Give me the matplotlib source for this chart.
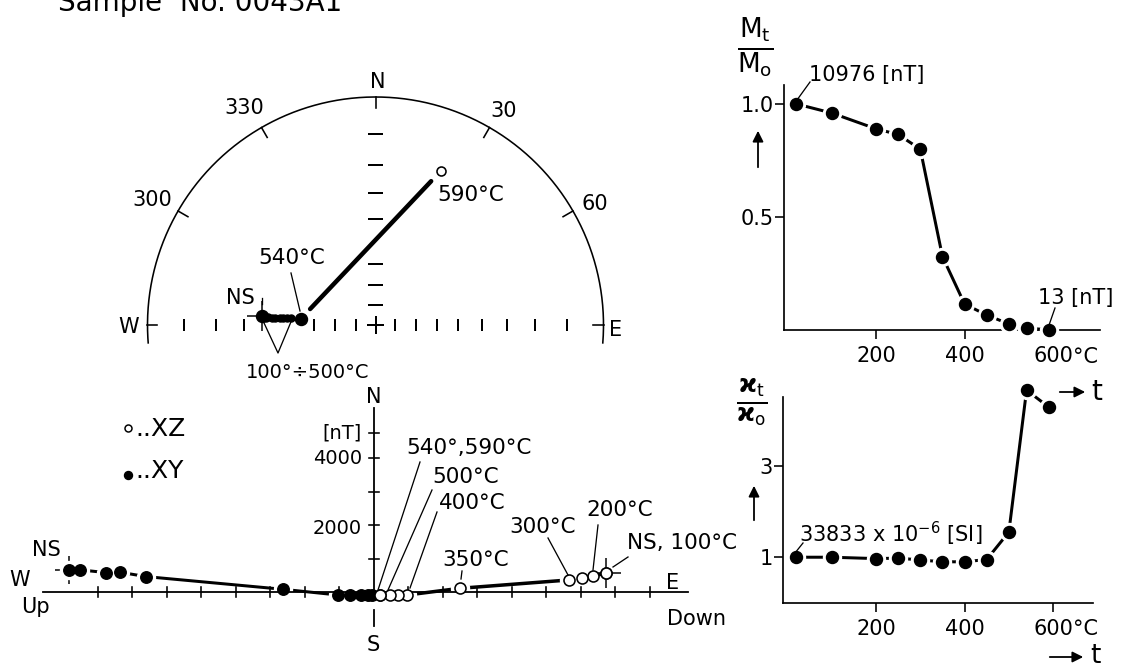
import numpy as np
import matplotlib.pyplot as plt

# ---- data ----
temps = [20, 100, 200, 250, 300, 350, 400, 450, 500, 540, 590]

# thermal demagnetisation, M_t / M_o
m_ratio = [1.0, 0.96, 0.89, 0.865, 0.80, 0.325, 0.115, 0.066, 0.027, 0.008, 0.0012]
# susceptibility, kappa_t / kappa_o
k_ratio = [1.0, 1.0, 0.97, 0.98, 0.94, 0.90, 0.90, 0.95, 1.55, 4.65, 4.28]

# Zijderveld diagram [nT]
xy_east = [-8830, -8520, -7770, -7360, -6610, -2630, -1040, -700, -380, -170, -50]
xy_north = [660, 660, 580, 590, 460, 80, -90, -90, -90, -90, -90]
xz_down = [6720, 6720, 6360, 6020, 5660, 2490, 960, 700, 460, 170, 170]
xz_north = [560, 560, 480, 410, 360, 110, -90, -90, -90, -90, -90]

# stereographic projection: NS, 100..500 (8 steps), 540, 590
st_dec = [274.7, 273.9, 274.0, 274.1, 274.2, 274.4, 274.5, 274.7, 274.9, 274.9, 23.0]
st_inc = [36.8, 38.7, 39.5, 41.2, 42.4, 44.5, 45.8, 47.6, 49.3, 53.7, -17.4]

W, H = 1123, 672
plt.rcParams['font.family'] = ['DejaVu Sans']
fig = plt.figure(figsize=(W / 100, H / 100), dpi=100)


def box(x0, y0, x1, y1):
    # pixel box (top-left origin) -> figure fraction
    return [x0 / W, 1 - y1 / H, (x1 - x0) / W, (y1 - y0) / H]


PT = 0.72  # points per pixel

# ---------------- stereonet ----------------
CX, CY, R = 375.5, 325, 228
ax_st = fig.add_axes(box(100, 40, 660, 400))
ax_st.set_xlim((100 - CX) / R, (660 - CX) / R)
ax_st.set_ylim((CY - 400) / R, (CY - 40) / R)
ax_st.axis('off')

th = np.radians(np.linspace(-4.5, 184.5, 300))
ax_st.plot(np.cos(th), np.sin(th), color='k', lw=1.6 * PT)
for az in [300, 330, 0, 30, 60]:
    a = np.radians(az)
    ax_st.plot([np.sin(a), 0.95 * np.sin(a)], [np.cos(a), 0.95 * np.cos(a)],
               color='k', lw=1.6 * PT)
ax_st.plot([-1, -0.96], [0, 0], color='k', lw=1.6 * PT)
ax_st.plot([1, 0.955], [0, 0], color='k', lw=1.6 * PT)

tick_r = np.tan(np.radians((90 - np.arange(10, 90, 10)) / 2))
for inc, r in zip(range(10, 90, 10), tick_r):
    ax_st.plot([r, r], [-0.022, 0.022], color='k', lw=2 * PT)
    if inc not in (40, 50):
        ax_st.plot([-r, -r], [-0.022, 0.022], color='k', lw=2 * PT)
    if inc != 50:
        ax_st.plot([-0.027, 0.027], [r, r], color='k', lw=2 * PT)
ax_st.plot([-0.035, 0.035], [0, 0], color='k', lw=2 * PT)
ax_st.plot([0, 0], [-0.035, 0.035], color='k', lw=2 * PT)

st_r = np.tan(np.radians((90 - np.abs(st_inc)) / 2))
st_x = st_r * np.sin(np.radians(st_dec))
st_y = st_r * np.cos(np.radians(st_dec))
ax_st.plot(st_x[0], st_y[0], '+', color='k', ms=30 * PT, mew=1.5 * PT, zorder=2)
ax_st.plot(st_x[0], st_y[0], 'o', color='k', ms=12 * PT, zorder=3)
ax_st.plot(st_x[1:9], st_y[1:9], 'o', color='k', ms=7 * PT, zorder=3)
ax_st.plot(st_x[9], st_y[9], 'o', color='k', ms=12 * PT, zorder=3)
ax_st.plot(st_x[10], st_y[10], 'o', mfc='white', mec='k', ms=9 * PT,
           mew=1.6 * PT, zorder=3)
seg = np.array([0.065, 0.93])
ax_st.plot(st_x[9] + seg * (st_x[10] - st_x[9]), st_y[9] + seg * (st_y[10] - st_y[9]),
           color='k', lw=4.5 * PT, solid_capstyle='round')

# ---------------- Zijderveld ----------------
X0, Y0, SX, SY = 374, 592, 0.0345, 0.0335
ax_z = fig.add_axes(box(0, 380, 760, 672))
ax_z.set_xlim(-X0 / SX, (760 - X0) / SX)
ax_z.set_ylim((Y0 - 672) / SY, (Y0 - 380) / SY)
ax_z.axis('off')

ax_z.plot([-9600, 9100], [0, 0], color='k', lw=1.8 * PT, zorder=3.5)
ax_z.plot([0, 0], [-200, 5500], color='k', lw=1.8 * PT, zorder=3.5)
ax_z.plot([0, 0], [-550, -1000], color='k', lw=1.8 * PT, zorder=3.5)
for e in range(1000, 9000, 1000):
    for s in (-1, 1):
        ax_z.plot([s * e, s * e], [-150, 150], color='k', lw=1.6 * PT, zorder=3.5)
for n in [1000, 2000, 3000, 4000, 4750]:
    ax_z.plot([-145, 145], [n, n], color='k', lw=1.6 * PT, zorder=3.5)

ax_z.plot(xy_east[0], xy_north[0], '+', color='k', ms=28 * PT, mew=1.5 * PT, zorder=2)
ax_z.plot(xz_down[0], xz_north[0], '+', color='k', ms=30 * PT, mew=1.5 * PT, zorder=2)
ax_z.plot(xy_east, xy_north, color='k', lw=3 * PT, zorder=2)
ax_z.plot(xz_down, xz_north, color='k', lw=3.5 * PT, zorder=2)
ax_z.plot(xy_east, xy_north, 'o', color='white', ms=18 * PT, zorder=3)
ax_z.plot(xz_down[4:], xz_north[4:], 'o', color='white', ms=18 * PT, zorder=3)
ax_z.plot(xy_east, xy_north, 'o', color='k', ms=11.5 * PT, zorder=4)
ax_z.plot(xz_down, xz_north, 'o', mfc='white', mec='k', ms=11 * PT,
          mew=1.6 * PT, zorder=4)

# ---------------- M_t / M_o and kappa ----------------
ax_m = fig.add_axes(box(784, 85, 1100, 330))
ax_k = fig.add_axes(box(783, 397, 1093, 603))
ax_m.set_xlim(-8, 706)
ax_m.set_ylim(0, 1.084)
ax_k.set_xlim(-10, 690)
ax_k.set_ylim(0, 4.5)
for ax, vals in [(ax_m, m_ratio), (ax_k, k_ratio)]:
    ax.set_facecolor('none')
    for sp in ['top', 'right']:
        ax.spines[sp].set_visible(False)
    for sp in ['left', 'bottom']:
        ax.spines[sp].set_linewidth(1.7 * PT)
    ax.set_xticks([200, 400, 600])
    ax.set_xticklabels(['200', '400', '600'])
    ax.tick_params(direction='out', length=9 * PT, width=1.6 * PT, labelsize=15)
    ax.tick_params(axis='x', pad=5)
    ax.tick_params(axis='y', pad=1)
    ax.plot(temps, vals, color='k', lw=3 * PT, clip_on=False, zorder=2)
    ax.plot(temps, vals, 'o', color='white', ms=18 * PT, clip_on=False, zorder=3)
    ax.plot(temps, vals, 'o', color='k', ms=12 * PT, clip_on=False, zorder=4)
ax_m.set_yticks([0.5, 1.0])
ax_m.set_yticklabels(['0.5', '1.0'])
ax_k.set_yticks([1, 3])
ax_k.set_yticklabels(['1', '3'])

# ---------------- texts, leaders, arrows (pixel overlay) ----------------
ov = fig.add_axes([0, 0, 1, 1], zorder=10)
ov.set_xlim(0, W)
ov.set_ylim(H, 0)
ov.axis('off')


def txt(x, y, s, size=15, ha='left', va='center'):
    ov.text(x, y, s, fontsize=size, ha=ha, va=va)


def lead(x0, y0, x1, y1, lw=1.3):
    ov.plot([x0, x1], [y0, y1], color='k', lw=lw * PT)


def arrow(x0, y0, x1, y1):
    ov.annotate('', xy=(x1, y1), xytext=(x0, y0),
                arrowprops=dict(arrowstyle='-|>', color='k', lw=1.8 * PT,
                                mutation_scale=16))


ov.text(58, 11, 'Sample  No. 0043A1', fontsize=20, ha='left', va='baseline')

# stereonet labels
txt(378, 82, 'N', ha='center')
txt(244, 108, '330', ha='center')
txt(504, 111, '30', ha='center')
txt(152, 200, '300', ha='center')
txt(595, 204, '60', ha='center')
txt(129, 327, 'W', ha='center')
txt(616, 330, 'E', ha='center')
txt(437, 195, '590°C', size=15.5)
txt(258, 258, '540°C', size=15.5)
lead(291, 273, 300, 311)
txt(226, 298, 'NS')
lead(261.7, 298, 261.7, 304)
txt(246, 373, '100°÷500°C', size=14)
ov.plot([261.7, 278, 293], [318, 353, 317], color='k', lw=1.3 * PT)

# Zijderveld labels
txt(374, 397, 'N', ha='center')
txt(362, 433, '[nT]', size=14, ha='right')
txt(362, 458, '4000', size=14, ha='right')
txt(362, 528, '2000', size=14, ha='right')
txt(373, 645, 'S', ha='center')
txt(20, 580, 'W', ha='center')
txt(21, 607, 'Up')
txt(673, 583, 'E', ha='center')
txt(667, 619, 'Down')
txt(32, 550, 'NS')
ov.plot(128, 428, 'o', mfc='white', mec='k', ms=7 * PT, mew=1.5 * PT)
ov.plot(128, 475, 'o', color='k', ms=8 * PT)
txt(135, 429, '..XZ', size=18)
txt(135, 471, '..XY', size=18)

txt(406, 448, '540°,590°C', size=15.5)
lead(420, 462, 378, 590)
txt(432, 477, '500°C', size=15.5)
lead(432, 490, 388, 590)
txt(439, 503, '400°C', size=15.5)
lead(437, 512, 410, 588)
txt(442, 560, '350°C', size=15.5)
lead(462, 571, 461, 579)
txt(509, 527, '300°C', size=15.5)
lead(548, 538, 568, 575)
txt(586, 510, '200°C', size=15.5)
lead(598, 525, 593, 570)
txt(627, 543, 'NS, 100°C', size=15.5)
lead(628, 557, 613, 567)

# right-hand plots
ov.text(755, 48, r'$\frac{\mathrm{M_t}}{\mathrm{M_o}}$', fontsize=27,
        ha='center', va='center')
ov.text(752, 402, r'$\frac{\boldsymbol{\varkappa}_\mathrm{t}}{\boldsymbol{\varkappa}_\mathrm{o}}$',
        fontsize=25, ha='center', va='center')
arrow(758, 170, 758, 128)
arrow(754, 523, 754, 483)
txt(809, 75, '10976 [nT]')
lead(797, 100, 810, 82)
txt(1038, 298, '13 [nT]')
lead(1055, 308, 1048, 328)
txt(799, 534, r'33833 x 10$^{-6}$ [SI]')
lead(795, 553, 803, 543)
txt(1073, 357, '°C')
txt(1073, 629, '°C')
arrow(1057, 392, 1088, 392)
txt(1091, 392, 't', size=20)
arrow(1047, 657, 1086, 657)
txt(1090, 656, 't', size=19)

fig.savefig('out.png', dpi=100, facecolor='white')
